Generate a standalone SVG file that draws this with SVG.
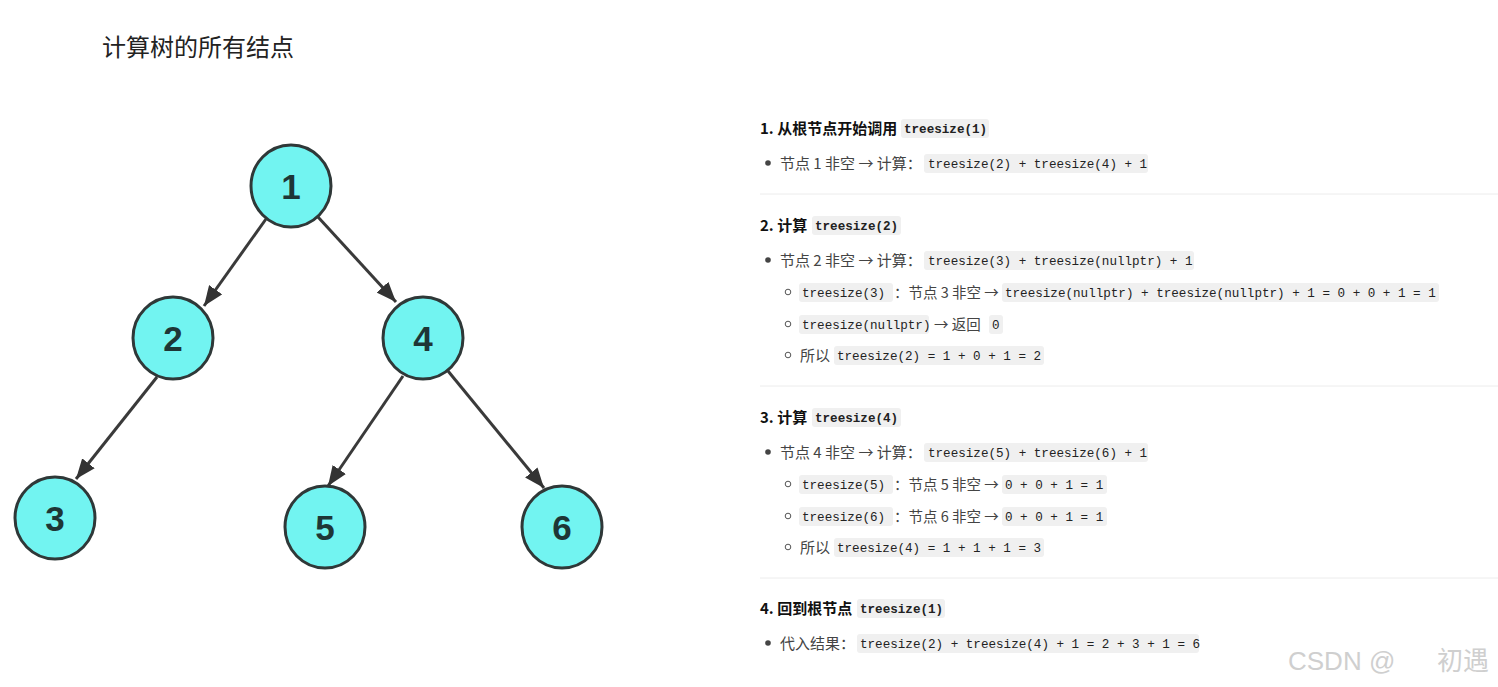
<svg xmlns="http://www.w3.org/2000/svg" width="1498" height="687" viewBox="0 0 1498 687">
<style>
.title{font-family:"Noto Sans CJK SC","Liberation Sans",sans-serif;font-size:24px;fill:#222}
.node ellipse{fill:#72f4f1;stroke:#2f3838;stroke-width:3}
.node text{font-family:"Liberation Sans","DejaVu Sans",sans-serif;font-weight:bold;font-size:35px;fill:#1e3636;text-anchor:middle}
.edge{stroke:#3a3a3a;stroke-width:3;fill:none}
.h{font-family:"Noto Sans CJK SC","Liberation Sans",sans-serif;font-weight:bold;font-size:15px;fill:#111}
.t{font-family:"Noto Sans CJK SC","Liberation Sans",sans-serif;font-size:15px;fill:#444}
.ts{font-family:"Noto Sans CJK SC","Liberation Sans",sans-serif;font-size:14.5px;fill:#444}
.c{font-family:"Liberation Mono","DejaVu Sans Mono",monospace;font-size:12.6px;fill:#222}
.cb{font-family:"Liberation Mono","DejaVu Sans Mono",monospace;font-size:12.6px;font-weight:bold;fill:#222}
.pill{fill:#f0f0f0}
.dot{fill:#444}
.ring{fill:none;stroke:#555;stroke-width:1}
.sep{stroke:#ececec;stroke-width:1}
.wm{font-family:"Liberation Sans","Noto Sans CJK SC",sans-serif;font-size:26px;fill:#cfcfcf}
</style>
<defs>
<marker id="arr" viewBox="0 0 20 16" refX="20" refY="8" markerWidth="20" markerHeight="16" markerUnits="userSpaceOnUse" orient="auto">
<path d="M0,0 L20,8 L0,16 z" fill="#333"/>
</marker>
</defs>
<rect width="1498" height="687" fill="#fff"/>
<text class="title" x="102" y="56">计算树的所有结点</text>

<g id="connectors">
<line class="edge" x1="266" y1="219" x2="204" y2="306" marker-end="url(#arr)"/>
<line class="edge" x1="318" y1="217" x2="396" y2="302" marker-end="url(#arr)"/>
<line class="edge" x1="157" y1="377" x2="76" y2="479" marker-end="url(#arr)"/>
<line class="edge" x1="403" y1="376" x2="328" y2="486" marker-end="url(#arr)"/>
<line class="edge" x1="448" y1="371" x2="544" y2="488" marker-end="url(#arr)"/>
</g>

<g id="n1" class="node"><ellipse cx="291" cy="186" rx="40" ry="41"/><text x="291" y="199">1</text></g>
<g id="n2" class="node"><ellipse cx="173" cy="338" rx="40" ry="41"/><text x="173" y="351">2</text></g>
<g id="n4" class="node"><ellipse cx="423" cy="338" rx="40" ry="41"/><text x="423" y="351">4</text></g>
<g id="n3" class="node"><ellipse cx="55" cy="518" rx="40" ry="41"/><text x="55" y="531">3</text></g>
<g id="n5" class="node"><ellipse cx="325" cy="527" rx="40" ry="41"/><text x="325" y="540">5</text></g>
<g id="n6" class="node"><ellipse cx="562" cy="527" rx="40" ry="41"/><text x="562" y="540">6</text></g>

<g id="steps">
<!-- step 1 -->
<text class="h" x="760" y="134">1. 从根节点开始调用</text>
<rect class="pill" x="901" y="119" width="88" height="19" rx="3"/>
<text class="cb" x="904" y="133">treesize(1)</text>
<circle class="dot" cx="768" cy="163" r="2.8"/>
<text class="t" x="780" y="169">节点 1 非空 → 计算：</text>
<rect class="pill" x="924" y="154" width="224" height="19" rx="3"/>
<text class="c" x="928" y="168">treesize(2) + treesize(4) + 1</text>
<line class="sep" x1="760" y1="194" x2="1498" y2="194"/>

<!-- step 2 -->
<text class="h" x="760" y="231">2. 计算</text>
<rect class="pill" x="812" y="216" width="89" height="19" rx="3"/>
<text class="cb" x="815" y="230">treesize(2)</text>
<circle class="dot" cx="768" cy="260" r="2.8"/>
<text class="t" x="780" y="266">节点 2 非空 → 计算：</text>
<rect class="pill" x="924" y="251" width="270" height="19" rx="3"/>
<text class="c" x="928" y="265">treesize(3) + treesize(nullptr) + 1</text>

<circle class="ring" cx="788" cy="292" r="2.8"/>
<rect class="pill" x="799" y="283" width="94" height="19" rx="3"/>
<text class="c" x="802" y="297">treesize(3)</text>
<text class="ts" x="894" y="298">：节点 3 非空 →</text>
<rect class="pill" x="1002" y="283" width="437" height="19" rx="3"/>
<text class="c" x="1005" y="297">treesize(nullptr) + treesize(nullptr) + 1 = 0 + 0 + 1 = 1</text>

<circle class="ring" cx="788" cy="324" r="2.8"/>
<rect class="pill" x="799" y="315" width="130" height="19" rx="3"/>
<text class="c" x="802" y="329">treesize(nullptr)</text>
<text class="ts" x="934" y="330">→ 返回</text>
<rect class="pill" x="989" y="315" width="14" height="19" rx="3"/>
<text class="c" x="992" y="329">0</text>

<circle class="ring" cx="788" cy="355" r="2.8"/>
<text class="t" x="800" y="361">所以</text>
<rect class="pill" x="834" y="346" width="210" height="19" rx="3"/>
<text class="c" x="837" y="360">treesize(2) = 1 + 0 + 1 = 2</text>
<line class="sep" x1="760" y1="386" x2="1498" y2="386"/>

<!-- step 3 -->
<text class="h" x="760" y="423">3. 计算</text>
<rect class="pill" x="812" y="408" width="89" height="19" rx="3"/>
<text class="cb" x="815" y="422">treesize(4)</text>
<circle class="dot" cx="768" cy="452" r="2.8"/>
<text class="t" x="780" y="458">节点 4 非空 → 计算：</text>
<rect class="pill" x="924" y="443" width="224" height="19" rx="3"/>
<text class="c" x="928" y="457">treesize(5) + treesize(6) + 1</text>

<circle class="ring" cx="788" cy="484" r="2.8"/>
<rect class="pill" x="799" y="475" width="94" height="19" rx="3"/>
<text class="c" x="802" y="489">treesize(5)</text>
<text class="ts" x="894" y="490">：节点 5 非空 →</text>
<rect class="pill" x="1002" y="475" width="105" height="19" rx="3"/>
<text class="c" x="1005" y="489">0 + 0 + 1 = 1</text>

<circle class="ring" cx="788" cy="516" r="2.8"/>
<rect class="pill" x="799" y="507" width="94" height="19" rx="3"/>
<text class="c" x="802" y="521">treesize(6)</text>
<text class="ts" x="894" y="522">：节点 6 非空 →</text>
<rect class="pill" x="1002" y="507" width="105" height="19" rx="3"/>
<text class="c" x="1005" y="521">0 + 0 + 1 = 1</text>

<circle class="ring" cx="788" cy="547" r="2.8"/>
<text class="t" x="800" y="553">所以</text>
<rect class="pill" x="834" y="538" width="210" height="19" rx="3"/>
<text class="c" x="837" y="552">treesize(4) = 1 + 1 + 1 = 3</text>
<line class="sep" x1="760" y1="578" x2="1498" y2="578"/>

<!-- step 4 -->
<text class="h" x="760" y="614">4. 回到根节点</text>
<rect class="pill" x="857" y="599" width="88" height="19" rx="3"/>
<text class="cb" x="860" y="613">treesize(1)</text>
<circle class="dot" cx="768" cy="643" r="2.8"/>
<text class="t" x="780" y="649">代入结果：</text>
<rect class="pill" x="857" y="634" width="342" height="19" rx="3"/>
<text class="c" x="860" y="648">treesize(2) + treesize(4) + 1 = 2 + 3 + 1 = 6</text>
</g>

<text class="wm" x="1288" y="670">CSDN @</text>
<text class="wm" x="1437" y="670">初遇</text>
</svg>
